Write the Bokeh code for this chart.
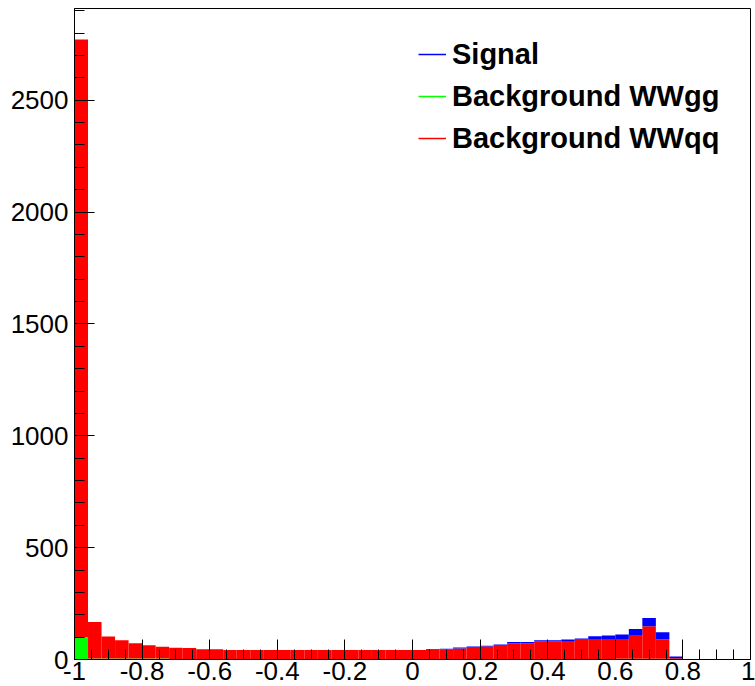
import numpy as np
from bokeh.plotting import figure
from bokeh.models import ColumnDataSource, FixedTicker, Legend, LegendItem
from bokeh.embed import file_html
from bokeh.resources import INLINE

# ---- data (50 bins from -1 to 1) ----
bin_lo, bin_hi, n_bins = -1.0, 1.0, 50
bin_width = (bin_hi - bin_lo) / n_bins
bin_centers = list(np.linspace(bin_lo + bin_width / 2, bin_hi - bin_width / 2, n_bins))

wwgg = [100, 4, 4, 4, 4, 4, 4, 0, 0, 0,
        0, 0, 0, 0, 0, 0, 0, 0, 0, 0,
        0, 0, 0, 0, 0, 0, 0, 0, 0, 0,
        0, 0, 0, 0, 0, 0, 0, 0, 0, 0,
        3, 3, 3, 3, 0, 0, 0, 0, 0, 0]
wwqq = [2671, 164, 99, 82, 69, 60, 53, 52, 51, 46,
        46, 43, 42, 42, 42, 42, 42, 42, 42, 42,
        42, 42, 42, 42, 42, 42, 42, 45, 49, 52,
        58, 61, 73, 73, 81, 81, 83, 88, 92, 92,
        89, 107, 146, 88, 6, 0, 0, 0, 0, 0]
signal = [0, 0, 0, 0, 0, 0, 0, 0, 0, 0,
          0, 0, 0, 0, 0, 0, 0, 0, 0, 0,
          0, 0, 0, 0, 0, 0, 4, 3, 5, 6,
          3, 6, 5, 5, 5, 5, 6, 6, 12, 15,
          20, 26, 37, 31, 7, 0, 0, 0, 0, 0]

x_major = [-1, -0.8, -0.6, -0.4, -0.2, 0, 0.2, 0.4, 0.6, 0.8, 1]
x_labels = ["-1", "-0.8", "-0.6", "-0.4", "-0.2", "0", "0.2", "0.4", "0.6", "0.8", "1"]
x_minor = [round(-1 + 0.05 * i, 2) for i in range(41)]
y_major = [0, 500, 1000, 1500, 2000, 2500]
y_labels = ["0", "500", "1000", "1500", "2000", "2500"]
y_minor = [100 * i for i in range(30)]
y_max = 2910

legend_names = ["Signal", "Background WWgg", "Background WWqq"]
colors = {"Signal": "#0000ff", "Background WWgg": "#00ff00", "Background WWqq": "#ff0000"}

source = ColumnDataSource(dict(x=bin_centers, wwgg=wwgg, wwqq=wwqq, signal=signal))

p = figure(width=755, height=686, x_range=(bin_lo, bin_hi), y_range=(0, y_max),
           output_backend="svg", toolbar_location=None,
           min_border_left=74, min_border_right=5, min_border_top=8, min_border_bottom=27)

p.vbar_stack(["wwgg", "wwqq", "signal"], x="x", width=bin_width, source=source,
             fill_color=[colors["Background WWgg"], colors["Background WWqq"], colors["Signal"]],
             line_color=None)

# legend line glyphs (single point: nothing visible in the plot area)
rends = {}
for name in legend_names:
    rends[name] = p.line(x=[bin_centers[0]], y=[0], line_color=colors[name], line_width=1.5)

legend = Legend(items=[LegendItem(label=n, renderers=[rends[n]]) for n in legend_names],
                location=(344, 502), orientation="vertical",
                glyph_width=28, glyph_height=38, label_height=38, label_standoff=6,
                spacing=4, padding=0, margin=0,
                border_line_alpha=0, background_fill_alpha=0,
                label_text_font="Liberation Sans", label_text_font_style="bold",
                label_text_font_size="29px", label_text_color="black")
p.add_layout(legend)

p.xgrid.visible = False
p.ygrid.visible = False
p.outline_line_color = "black"
p.outline_line_width = 1
p.outline_line_alpha = 1

p.xaxis.ticker = FixedTicker(ticks=x_major, minor_ticks=x_minor)
p.xaxis.major_label_overrides = {v: l for v, l in zip(x_major, x_labels)}
p.yaxis.ticker = FixedTicker(ticks=y_major, minor_ticks=y_minor)
p.yaxis.major_label_overrides = {v: l for v, l in zip(y_major, y_labels)}

for ax in (p.xaxis[0], p.yaxis[0]):
    ax.axis_line_color = "black"
    ax.major_tick_line_color = "black"
    ax.minor_tick_line_color = "black"
    ax.major_tick_in = 20
    ax.major_tick_out = 0
    ax.minor_tick_in = 10
    ax.minor_tick_out = 0
    ax.major_label_text_font = "Liberation Sans"
    ax.major_label_text_font_size = "26px"
    ax.major_label_text_color = "black"

p.xaxis.major_label_standoff = 2
p.xaxis.major_label_text_line_height = 0.7
p.yaxis.major_label_standoff = 6

open("out.html", "w").write(file_html(p, INLINE))
